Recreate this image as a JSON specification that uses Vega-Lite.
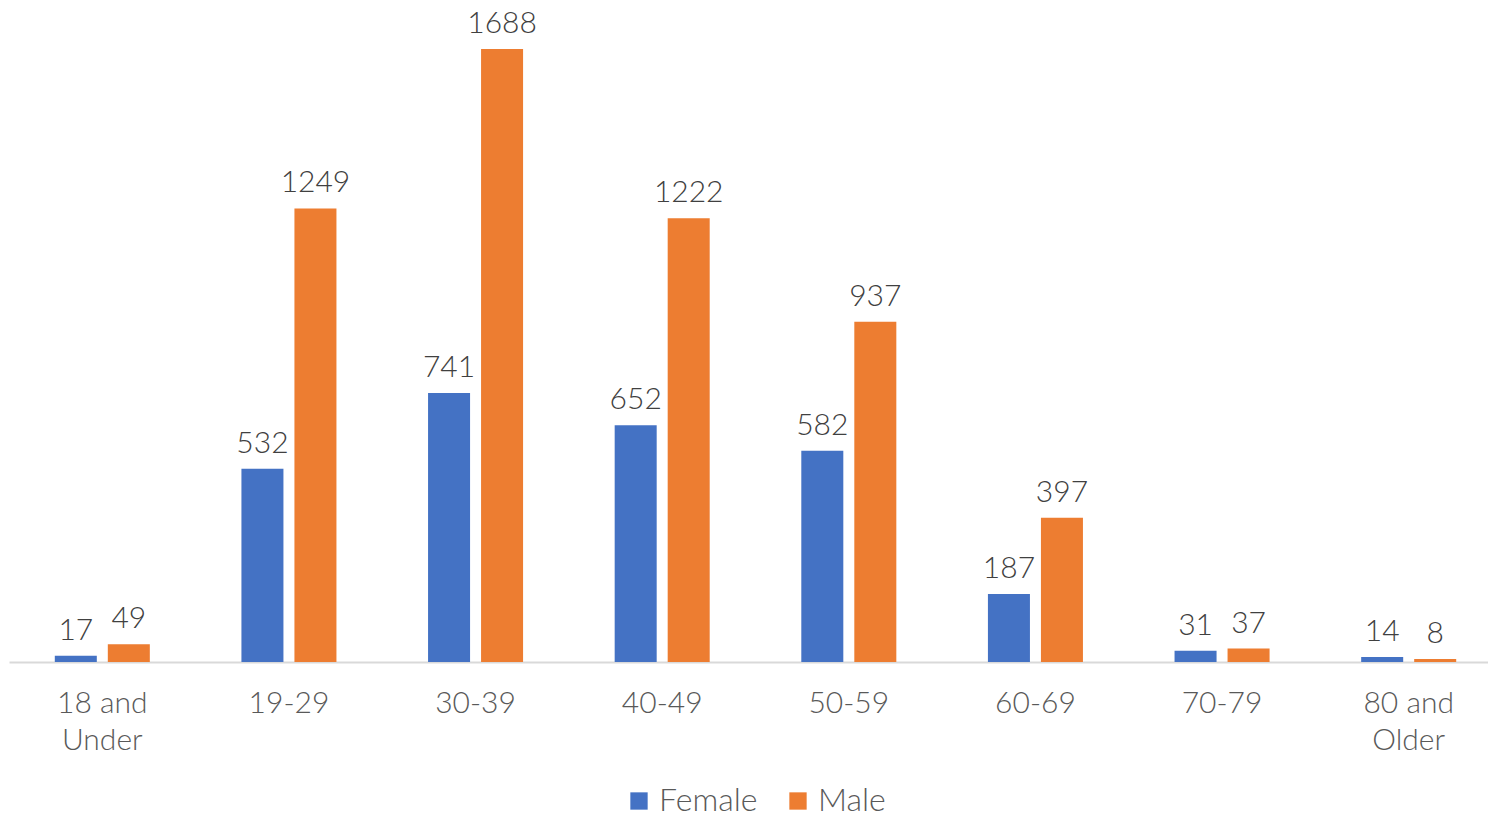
{
  "$schema": "https://vega.github.io/schema/vega-lite/v6.json",
  "width": 1493,
  "height": 662,
  "autosize": "none",
  "padding": {"left": 9, "top": 0, "right": 0, "bottom": 155},
  "background": "white",
  "config": {
    "view": {"stroke": null},
    "font": "Lato"
  },
  "data": {
    "values": [
      {"age": "18 and|Under", "sex": "Female", "count": 17},
      {"age": "18 and|Under", "sex": "Male", "count": 49},
      {"age": "19-29", "sex": "Female", "count": 532},
      {"age": "19-29", "sex": "Male", "count": 1249},
      {"age": "30-39", "sex": "Female", "count": 741},
      {"age": "30-39", "sex": "Male", "count": 1688},
      {"age": "40-49", "sex": "Female", "count": 652},
      {"age": "40-49", "sex": "Male", "count": 1222},
      {"age": "50-59", "sex": "Female", "count": 582},
      {"age": "50-59", "sex": "Male", "count": 937},
      {"age": "60-69", "sex": "Female", "count": 187},
      {"age": "60-69", "sex": "Male", "count": 397},
      {"age": "70-79", "sex": "Female", "count": 31},
      {"age": "70-79", "sex": "Male", "count": 37},
      {"age": "80 and|Older", "sex": "Female", "count": 14},
      {"age": "80 and|Older", "sex": "Male", "count": 8}
    ]
  },
  "encoding": {
    "x": {
      "field": "age",
      "type": "nominal",
      "sort": null,
      "scale": {"paddingInner": 0, "paddingOuter": 0},
      "axis": {
        "title": null,
        "labelAngle": 0,
        "labelExpr": "split(datum.value, '|')",
        "labelFontSize": 30,
        "labelLineHeight": 37,
        "labelColor": "#595959",
        "labelFontWeight": 300,
        "labelPadding": 26,
        "ticks": false,
        "domainColor": "#d9d9d9",
        "domainWidth": 2
      }
    },
    "xOffset": {
      "field": "sex",
      "type": "nominal",
      "scale": {"paddingInner": 0.2075, "paddingOuter": 0.864}
    },
    "y": {
      "field": "count",
      "type": "quantitative",
      "scale": {"domain": [0, 1823], "nice": false},
      "axis": null
    }
  },
  "layer": [
    {
      "mark": {"type": "bar"},
      "encoding": {
        "color": {
          "field": "sex",
          "type": "nominal",
          "scale": {"domain": ["Female", "Male"], "range": ["#4472C4", "#ED7D31"]},
          "legend": {
            "title": null,
            "orient": "none",
            "direction": "horizontal",
            "legendX": 614,
            "legendY": 785,
            "symbolType": "square",
            "symbolSize": 300,
            "symbolStrokeWidth": 0,
            "labelFontSize": 32,
            "labelColor": "#595959",
            "labelFontWeight": 300,
            "columnPadding": 24,
            "labelOffset": 4
          }
        }
      }
    },
    {
      "mark": {"type": "text", "baseline": "bottom", "dy": -10, "fontSize": 30, "color": "#404040", "fontWeight": 300},
      "encoding": {
        "text": {"field": "count", "type": "quantitative"}
      }
    }
  ]
}
